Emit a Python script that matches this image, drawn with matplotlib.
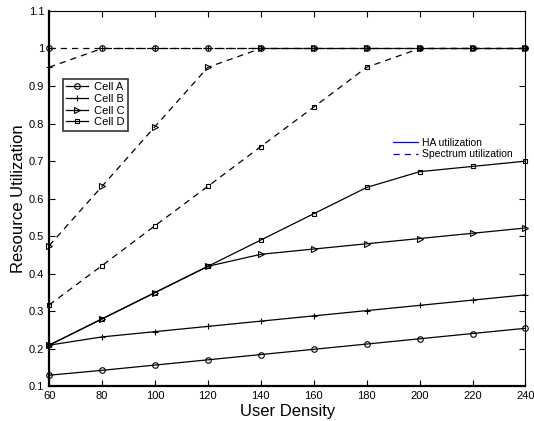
import numpy as np
import matplotlib.pyplot as plt
from matplotlib.lines import Line2D
from matplotlib.ticker import FormatStrFormatter

plt.rcParams['font.family'] = ['Liberation Sans', 'DejaVu Sans']

# datos
density = [60, 80, 100, 120, 140, 160, 180, 200, 220, 240]

# HA utilization (linea continua)
ha_a = [0.130, 0.143, 0.157, 0.171, 0.185, 0.199, 0.213, 0.227, 0.241, 0.255]
ha_b = [0.210, 0.232, 0.246, 0.260, 0.274, 0.288, 0.302, 0.316, 0.330, 0.344]
ha_c = [0.210, 0.280, 0.350, 0.420, 0.452, 0.466, 0.480, 0.494, 0.508, 0.522]
ha_d = [0.210, 0.280, 0.350, 0.420, 0.490, 0.560, 0.630, 0.672, 0.686, 0.700]

# Spectrum utilization (linea discontinua)
sp_a = [1.0, 1.0, 1.0, 1.0, 1.0, 1.0, 1.0, 1.0, 1.0, 1.0]
sp_b = [0.95, 1.0, 1.0, 1.0, 1.0, 1.0, 1.0, 1.0, 1.0, 1.0]
sp_c = [0.475, 0.633, 0.792, 0.95, 1.0, 1.0, 1.0, 1.0, 1.0, 1.0]
sp_d = [0.317, 0.422, 0.528, 0.633, 0.739, 0.844, 0.95, 1.0, 1.0, 1.0]

cells = ["Cell A", "Cell B", "Cell C", "Cell D"]
markers = ["o", "+", ">", "s"]
msizes = [4, 5, 4.5, 3.5]

fig = plt.figure(figsize=(5.34, 4.21), dpi=100)
ax = fig.add_axes([0.092, 0.082, 0.892, 0.892])

kw = dict(color="black", lw=0.9, mfc="none", mec="black", mew=0.8, clip_on=False)
for ys, m, ms in zip([ha_a, ha_b, ha_c, ha_d], markers, msizes):
    ax.plot(density, ys, "-", marker=m, ms=ms, **kw)
for ys, m, ms in zip([sp_a, sp_b, sp_c, sp_d], markers, msizes):
    ax.plot(density, ys, linestyle=(0, (5, 4)), marker=m, ms=ms, **kw)

ax.set_xlim(60, 240)
ax.set_ylim(0.1, 1.1)
ax.set_xticks(range(60, 241, 20))
ax.set_yticks(np.arange(0.1, 1.11, 0.1))
ax.yaxis.set_major_formatter(FormatStrFormatter("%g"))
ax.tick_params(direction="in", top=True, right=True, labelsize=8, length=4)
for s in ["left", "bottom"]:
    ax.spines[s].set_linewidth(1.6)
for s in ["top", "right"]:
    ax.spines[s].set_linewidth(0.8)

ax.set_xlabel("User Density", fontsize=12, labelpad=2)
ax.set_ylabel("Resource Utilization", fontsize=12, labelpad=2)

handles = [Line2D([], [], color="black", lw=0.9, marker=m, ms=ms, mfc="none",
                  mec="black", mew=0.8) for m, ms in zip(markers, msizes)]
leg1 = ax.legend(handles, cells, loc="upper left", bbox_to_anchor=(0.029, 0.819),
                 fontsize=8, frameon=True, fancybox=False, edgecolor="black",
                 handlelength=2.0, handletextpad=0.5, borderpad=0.3,
                 labelspacing=0.15, borderaxespad=0)
leg1.get_frame().set_linewidth(1.2)
ax.add_artist(leg1)

h2 = [Line2D([], [], color="blue", lw=0.9),
      Line2D([], [], color="blue", lw=0.9, linestyle=(0, (5, 4)))]
ax.legend(h2, ["HA utilization", "Spectrum utilization"], loc="upper left",
          bbox_to_anchor=(0.713, 0.673), fontsize=7.5, frameon=False,
          handlelength=2.4, handletextpad=0.4, labelspacing=0.12, borderaxespad=0)

fig.savefig("out.png", dpi=100)
